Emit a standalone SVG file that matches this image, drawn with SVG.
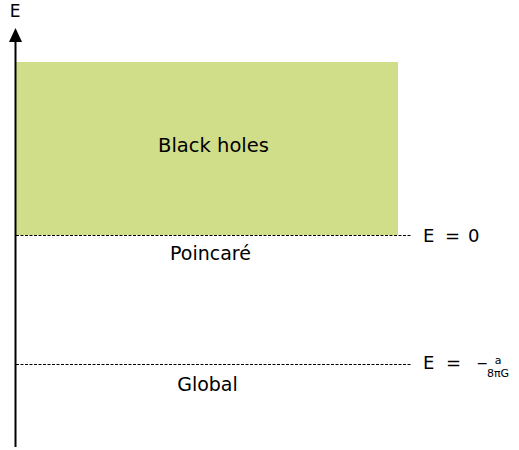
<svg xmlns="http://www.w3.org/2000/svg" width="519" height="450" viewBox="0 0 519 450">
<style>
text{font-family:"DejaVu Sans",Verdana,sans-serif;font-size:19px;fill:#000}
.frac{font-size:11px}
.dash{stroke:#000;stroke-width:1;stroke-dasharray:3,1.5;fill:none}
</style>
<g id="region-blackholes">
<rect x="16" y="62" width="382" height="173" fill="#d0de8a"/>
<text x="213.5" y="152" text-anchor="middle" style="font-size:19.5px">Black holes</text>
</g>
<g id="axis">
<line x1="15.5" y1="447" x2="15.5" y2="40" stroke="#000" stroke-width="2"/>
<path d="M9,42 L15.5,28 L22,42 Z" fill="#000"/>
<text x="15" y="17" text-anchor="middle" style="font-size:17px">E</text>
</g>
<g id="connectors">
<line class="dash" x1="16" y1="235.5" x2="412" y2="235.5"/>
<line class="dash" x1="16" y1="364.5" x2="412" y2="364.5"/>
</g>
<g id="poincare">
<text x="210.5" y="260" text-anchor="middle">Poincaré</text>
<text x="423" y="242" style="font-size:18px">E</text>
<text x="445" y="242" style="font-size:18px">=</text>
<text x="468" y="242" style="font-size:18px">0</text>
</g>
<g id="global">
<text x="207.5" y="391" text-anchor="middle">Global</text>
<text x="423" y="369" style="font-size:18px">E</text>
<text x="446" y="369" style="font-size:18px">=</text>
<text x="476.5" y="368" style="font-size:14px">−</text>
<text class="frac" x="498" y="364" text-anchor="middle">a</text>
<text class="frac" x="498" y="377" text-anchor="middle">8πG</text>
</g>
</svg>
